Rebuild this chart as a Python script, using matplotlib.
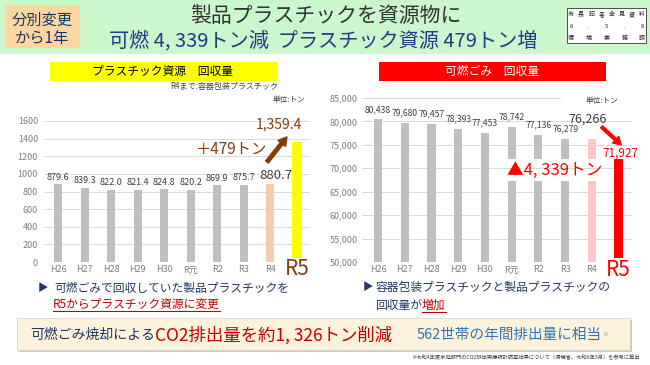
import matplotlib
matplotlib.use('Agg')
import matplotlib.pyplot as plt
from matplotlib.patches import Rectangle
from matplotlib.lines import Line2D
import matplotlib.transforms as mtransforms

plt.rcParams['font.family'] = ['Noto Sans CJK JP', 'DejaVu Sans']

# data
years = ['H26', 'H27', 'H28', 'H29', 'H30', 'R元', 'R2', 'R3', 'R4', 'R5']
plastic = [879.6, 839.3, 822.0, 821.4, 824.8, 820.2, 869.9, 875.7, 880.7, 1359.4]
burnable = [80438, 79680, 79457, 78393, 77453, 78742, 77136, 76279, 76266, 71927]
plastic_ticks = [0, 200, 400, 600, 800, 1000, 1200, 1400, 1600]
burnable_ticks = [50000, 55000, 60000, 65000, 70000, 75000, 80000, 85000]

plastic_colors = ['#bfbfbf'] * 8 + ['#f8cbad', '#ffff00']
burnable_colors = ['#bfbfbf'] * 8 + ['#ffc7c7', '#ff0000']

# break drawn through the R元..R4 bars of the burnable chart
gap_lo, gap_hi = 67200, 71900

W, H = 650, 365
navy = '#1f3864'
brown = '#843c0c'
dark = '#404040'


def box(x0, y0, x1, y1):
    # pixel box (top-left origin) -> figure fraction rect
    return [x0 / W, 1 - y1 / H, (x1 - x0) / W, (y1 - y0) / H]


def fx(x):
    return x / W


def fy(y):
    return 1 - y / H


fig = plt.figure(figsize=(6.5, 3.65), dpi=100)
renderer = fig.canvas.get_renderer()


def write_run(x, y, parts, va='center'):
    # place pieces of text one after another, return end x in pixels
    for s, size, color in parts:
        t = fig.text(fx(x), fy(y), s, fontsize=size, color=color, ha='left', va=va)
        x += t.get_window_extent(renderer=renderer).width
    return x


# ---- header ----
fig.patches.append(Rectangle((0, fy(54)), 1, 54 / H, transform=fig.transFigure,
                             facecolor='#ccf7cc', edgecolor='none', zorder=0))
fig.patches.append(Rectangle((fx(5), fy(48)), 75 / W, 43 / H, transform=fig.transFigure,
                             facecolor='#fcd7a4', edgecolor='none', zorder=1))
fig.text(fx(42), fy(20), '分別変更', fontsize=11, color='#17375e', ha='center', va='center')
fig.text(fx(42), fy(39), 'から1年', fontsize=11, color='#17375e', ha='center', va='center')

fig.text(fx(326), fy(16), '製品プラスチックを資源物に', fontsize=15, color='#333333',
         ha='center', va='center')
fig.text(fx(323), fy(41), '可燃 4, 339トン減  プラスチック資源 479トン増', fontsize=14.5,
         color='#1f3c88', ha='center', va='center')

# stamp table
fig.patches.append(Rectangle((fx(567), fy(43)), 79 / W, 35 / H, transform=fig.transFigure,
                             facecolor='white', edgecolor='#333333', lw=0.6, zorder=2))
for yy in [20, 32]:
    fig.add_artist(Line2D([fx(567), fx(646)], [fy(yy), fy(yy)], color='#333333', lw=0.5))
rows = [('市長記者会見資料', 14), ('6.5.8', 26), ('環境業務課', 38)]
for s, yy in rows:
    n = len(s)
    for k, ch in enumerate(s):
        xx = 571 + k * (71 / (n - 1))
        fig.text(fx(xx), fy(yy), ch, fontsize=4.3, color='#222222', ha='center', va='center')

# ---- chart titles ----
fig.patches.append(Rectangle((fx(50), fy(81)), 227 / W, 19 / H, transform=fig.transFigure,
                             facecolor='#ffff00', edgecolor='none'))
fig.text(fx(163), fy(71.5), 'プラスチック資源　回収量', fontsize=8.5, color='black',
         ha='center', va='center')
fig.text(fx(278), fy(87), 'R4まで:容器包装プラスチック', fontsize=5.8, color=dark,
         ha='right', va='center')
fig.text(fx(305), fy(100), '単位:トン', fontsize=5.5, color=dark, ha='right', va='center')

fig.patches.append(Rectangle((fx(379), fy(81)), 227 / W, 19 / H, transform=fig.transFigure,
                             facecolor='#ff0000', edgecolor='none'))
fig.text(fx(492), fy(71.5), '可燃ごみ　回収量', fontsize=8.5, color='white',
         ha='center', va='center')
fig.text(fx(618), fy(101), '単位:トン', fontsize=5.5, color=dark, ha='right', va='center')

# ---- left chart: plastic ----
ax1 = fig.add_axes(box(45, 121, 310, 262))
x = list(range(len(years)))
widths1 = [0.3] * 9 + [0.34]
bottoms1 = [0] * 9 + [45]
ax1.bar(x, [v - b for v, b in zip(plastic, bottoms1)], bottom=bottoms1,
        width=widths1, color=plastic_colors, zorder=2)
ax1.set_xlim(-0.49, 9.49)
ax1.set_ylim(0, 1600)
ax1.set_yticks(plastic_ticks)
for t in plastic_ticks:
    ax1.axhline(t, color='#d9d9d9', lw=0.7, zorder=1)
for i in range(8):
    ax1.annotate(f'{plastic[i]:.1f}', (i, plastic[i]), xytext=(0, 2),
                 textcoords='offset points', ha='center', va='bottom',
                 fontsize=6.5, color=dark)
ax1.annotate(f'{plastic[8]:.1f}', (8, plastic[8]), xytext=(4, 2),
             textcoords='offset points', ha='center', va='bottom', fontsize=9.5, color=dark)
ax1.text(8.32, 1566, f'{plastic[9]:,.1f}', fontsize=10, color=brown, ha='center', va='center')
ax1.text(6.55, 1283, '＋479トン', fontsize=11, color=brown, ha='center', va='center')
ax1.annotate('', xy=(8.62, 1419), xytext=(7.87, 1135),
             arrowprops=dict(facecolor=brown, edgecolor=brown, width=2.5,
                             headwidth=7, headlength=6))

# ---- right chart: burnable ----
ax2 = fig.add_axes(box(362, 98, 632, 262))
base = 50000
for i, v in enumerate(burnable):
    w = 0.34 if i == 9 else 0.3
    if 5 <= i <= 8:
        ax2.bar(i, gap_lo - base, bottom=base, width=w, color=burnable_colors[i], zorder=2)
        ax2.bar(i, v - gap_hi, bottom=gap_hi, width=w, color=burnable_colors[i], zorder=2)
    elif i == 9:
        ax2.bar(i, v - base - 850, bottom=base + 850, width=w, color=burnable_colors[i], zorder=2)
    else:
        ax2.bar(i, v - base, bottom=base, width=w, color=burnable_colors[i], zorder=2)
ax2.set_xlim(-0.6, 9.5)
ax2.set_ylim(50000, 85000)
ax2.set_yticks(burnable_ticks)
ax2.set_yticklabels([f'{t:,}' for t in burnable_ticks])
for t in burnable_ticks:
    ax2.axhline(t, xmax=0.733 if t == 85000 else 1, color='#d9d9d9', lw=0.7, zorder=1)
for i in range(8):
    ax2.annotate(f'{burnable[i]:,}', (i, burnable[i]), xytext=(0, 4),
                 textcoords='offset points', ha='center', va='bottom',
                 fontsize=6.2, color=dark)
ax2.text(7.84, 80559, f'{burnable[8]:,}', fontsize=9, color=dark, ha='center', va='center')
ax2.text(9.05, 73293, f'{burnable[9]:,}', fontsize=8.5, color='#ff0000', ha='center', va='center')
ax2.annotate('', xy=(9.1, 75000), xytext=(8.36, 78850),
             arrowprops=dict(facecolor='#ff0000', edgecolor='#ff0000', width=2,
                             headwidth=6.5, headlength=5.5))
ax2.text(6.6, 69447, '▲4, 339トン', fontsize=12, color='#ff0000', ha='center', va='center')

for ax, col, pad in [(ax1, brown, 5), (ax2, '#ff0000', 3)]:
    for s in ax.spines.values():
        s.set_visible(False)
    ax.set_xticks(x[:9])
    ax.set_xticklabels(years[:9])
    ax.tick_params(axis='y', length=0, labelsize=6.5, labelcolor='#7f7f7f', pad=pad)
    ax.tick_params(axis='x', length=0, labelsize=6.5, labelcolor='#7f7f7f', pad=2.5)
    trans = mtransforms.blended_transform_factory(ax.transData, ax.transAxes)
    ax.text(9, -0.05, 'R5', transform=trans, fontsize=15, color=col,
            ha='center', va='center')

# ---- bullets ----
fig.text(fx(38), fy(288), '▶', fontsize=7.5, color=navy, ha='left', va='center')
write_run(54, 288, [('可燃ごみで回収していた製品プラスチックを', 8.5, navy)])
end = write_run(53, 304, [('R5からプラスチック資源に変更', 8.5, '#c00000')])
fig.add_artist(Line2D([fx(53), fx(end)], [fy(311), fy(311)], color='#c00000', lw=0.8))

fig.text(fx(363), fy(287), '▶', fontsize=7.5, color=navy, ha='left', va='center')
write_run(375, 287, [('容器包装プラスチックと製品プラスチックの', 8.5, navy)])
mid = write_run(375, 305, [('回収量が', 8.5, navy)])
end = write_run(mid, 305, [('増加', 8.5, '#c00000')])
fig.add_artist(Line2D([fx(mid), fx(end)], [fy(312), fy(312)], color='#c00000', lw=0.8))

# ---- bottom summary box ----
fig.patches.append(Rectangle((fx(19), fy(352)), 613 / W, 32 / H, transform=fig.transFigure,
                             facecolor='#c8c8c8', edgecolor='none'))
fig.patches.append(Rectangle((fx(17), fy(350)), 613 / W, 32 / H, transform=fig.transFigure,
                             facecolor='#fdf3dc', edgecolor='#d0d0d0', lw=0.5))
write_run(30, 335, [('可燃ごみ焼却による', 10, navy),
                    ('CO2排出量を約1, 326トン削減', 12.5, '#c00000')])
write_run(417, 335, [('562世帯の年間排出量に相当', 10.5, '#2e75b6'),
                     ('※', 4, '#999999')])
fig.text(fx(640), fy(358),
         '※令和4年度家庭部門のCO2排出実態統計調査結果について（環境省、令和6年3月）を参考に算出',
         fontsize=3.8, color=dark, ha='right', va='center')

fig.savefig('out.png', dpi=100)
